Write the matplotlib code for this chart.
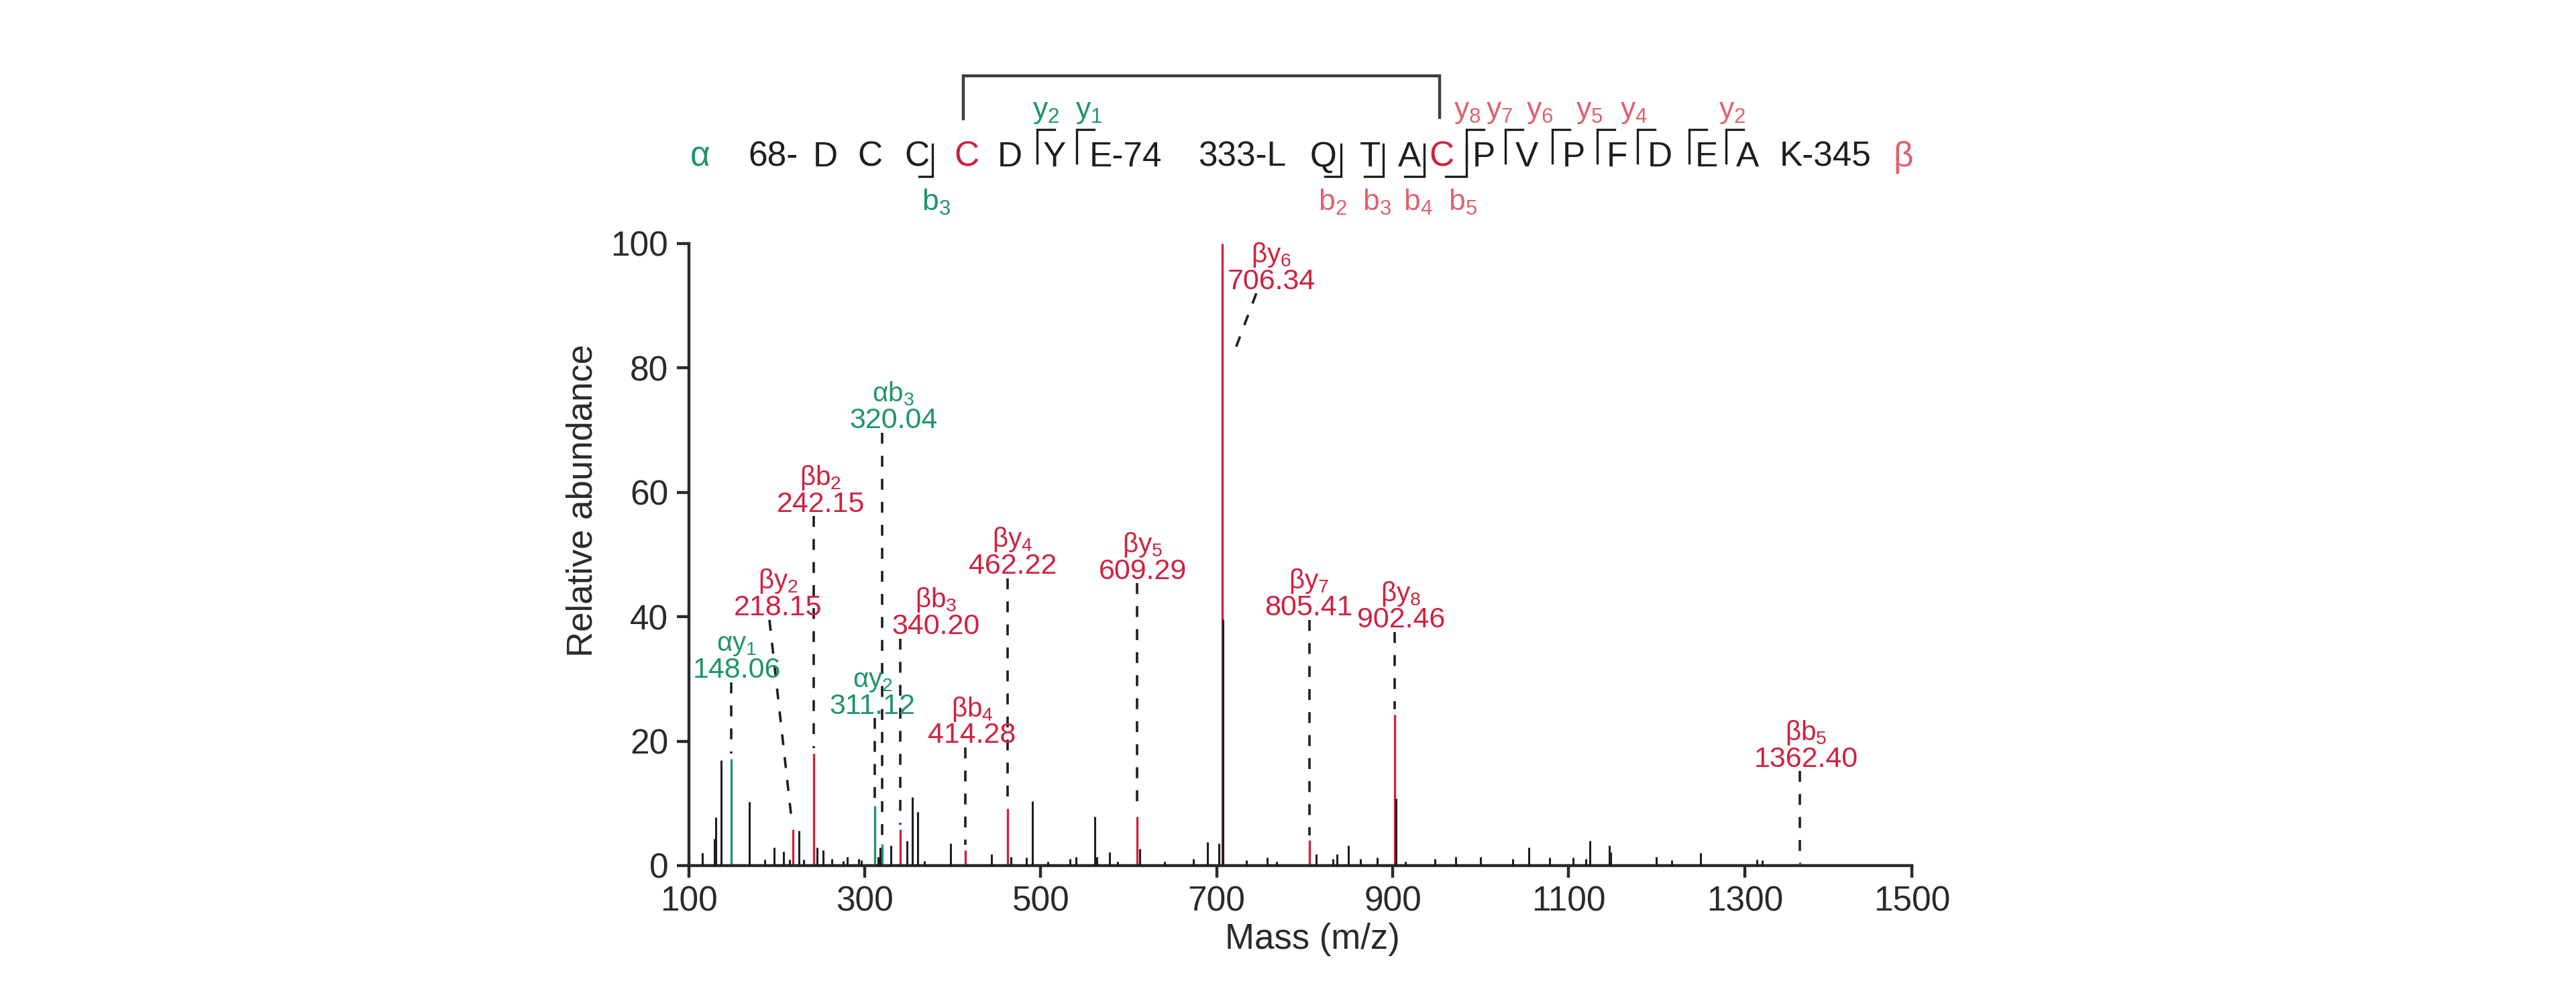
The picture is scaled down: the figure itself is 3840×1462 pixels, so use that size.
import matplotlib
matplotlib.use('Agg')
import matplotlib.pyplot as plt

# ── Palette / fonts ───────────────────────────────────────────────────
W, H = 3840, 1462
RED = '#d0213f'
GREEN = '#1e9664'
PINK = '#e0606f'
INK = '#1e1e1e'
AXC = '#2a2a2a'

plt.rcParams['font.family'] = ['Liberation Sans', 'DejaVu Sans']
plt.rcParams['mathtext.fontset'] = 'custom'
plt.rcParams['mathtext.rm'] = 'Liberation Sans'
plt.rcParams['mathtext.it'] = 'Liberation Sans:italic'
plt.rcParams['mathtext.bf'] = 'Liberation Sans:bold'

# ── Spectrum data ─────────────────────────────────────────────────────
black_mz = [115.7, 129.2, 131.0, 136.8, 168.6, 186.4, 197.1, 208.0, 214.4, 225.3,
            230.9, 246.1, 252.5, 262.7, 275.4, 280.5, 293.2, 296.2, 315.0, 317.5,
            330.0, 347.7, 354.1, 360.4, 368.0, 397.3, 444.2, 466.0, 483.8, 490.9,
            508.0, 533.4, 540.2, 561.3, 563.9, 578.4, 587.3, 612.2, 640.9, 673.7,
            689.7, 702.4, 707.3, 734.1, 757.0, 767.9, 812.9, 832.0, 836.6, 849.8,
            863.0, 882.3, 903.5, 914.6, 948.2, 971.3, 999.8, 1036.6, 1054.4, 1078.5,
            1105.2, 1119.2, 1123.8, 1145.9, 1147.7, 1199.2, 1217.0, 1250.0, 1314.1, 1320.0]
black_int = [2.1, 4.3, 7.8, 16.9, 10.3, 1.0, 2.9, 2.3, 1.0, 5.6,
             1.0, 2.9, 2.5, 1.1, 0.8, 1.4, 1.1, 0.9, 1.4, 2.9,
             3.2, 4.0, 11.0, 8.6, 0.8, 3.6, 1.8, 1.4, 1.3, 10.4,
             0.7, 1.1, 1.4, 7.9, 1.4, 2.2, 0.7, 2.7, 0.7, 1.1,
             3.8, 3.6, 39.6, 0.9, 1.3, 0.7, 1.8, 1.1, 1.8, 3.2,
             1.1, 1.3, 10.8, 0.7, 1.1, 1.4, 1.4, 1.1, 2.9, 1.3,
             1.3, 1.1, 4.0, 3.2, 2.2, 1.4, 0.9, 2.0, 1.0, 0.9]

# annotated fragment ions
ion_name = ['αy1', 'βy2', 'βb2', 'αy2', 'αb3', 'βb3', 'βb4',
            'βy4', 'βy5', 'βy6', 'βy7', 'βy8', 'βb5']
ion_mz = [148.06, 218.15, 242.15, 311.12, 320.04, 340.20, 414.28,
          462.22, 609.29, 706.34, 805.41, 902.46, 1362.40]
ion_int = [17.1, 5.8, 18.0, 9.6, 3.4, 5.8, 2.5,
           9.2, 7.9, 100.0, 4.1, 24.3, 0.5]

# label placement (label centre x, number baseline y) and leader ends
label_x = [154.6, 201.5, 249.9, 308.8, 332.4, 381.0, 422.0,
           467.8, 616.0, 762.0, 804.4, 909.5, 1369.4]
label_y = [30.2, 40.2, 56.9, 24.4, 70.3, 37.2, 19.7,
           46.9, 46.1, 92.7, 40.2, 38.25, 15.9]
lead_x0 = [148.06, 191.7, 242.15, 311.12, 320.04, 340.20, 414.28,
           462.22, 609.29, 745.0, 805.41, 902.46, 1362.40]
lead_x1 = [148.06, 217.5, 242.15, 311.12, 320.04, 340.20, 414.28,
           462.22, 609.29, 721.0, 805.41, 902.46, 1362.40]
lead_y1 = [18.0, 6.6, 18.9, 10.4, 4.2, 6.6, 3.3,
           10.0, 8.7, 83.0, 4.9, 25.1, 0.6]

xticks = [100, 300, 500, 700, 900, 1100, 1300, 1490]
xtick_labels = ['100', '300', '500', '700', '900', '1100', '1300', '1500']
yticks = [0, 20, 40, 60, 80, 100]

# ── Peptide header ────────────────────────────────────────────────────
alpha_res = ['68-', 'D', 'C', 'C', 'C', 'D', 'Y', 'E-74']
alpha_res_x = [1152, 1230, 1297, 1367, 1441, 1505, 1572, 1678]
beta_res = ['333-L', 'Q', 'T', 'A', 'C', 'P', 'V', 'P', 'F', 'D', 'E', 'A', 'K-345']
beta_res_x = [1852, 1973, 2043, 2101, 2149, 2212, 2276, 2346, 2410, 2474, 2544, 2605, 2721]
LINK_A, LINK_B = 4, 4

b_brk = [(1370, 1390), (1975, 1999), (2034, 2062), (2094, 2123), (2155, 2186)]
b_lab = [('b3', 1396, GREEN), ('b2', 1986, PINK), ('b3', 2053, PINK),
         ('b4', 2114, PINK), ('b5', 2181, PINK)]
y_brk = [1546, 1605, 2186, 2244, 2314, 2381, 2441, 2518, 2573]
y_lab = [('y2', 1559, GREEN), ('y1', 1623, GREEN), ('y8', 2187, PINK),
         ('y7', 2235, PINK), ('y6', 2295, PINK), ('y5', 2369, PINK),
         ('y4', 2436, PINK), ('y2', 2582, PINK)]


def sub(s):
    return r'$\mathregular{' + s[:-1] + '_{' + s[-1] + '}}$'


fig = plt.figure(figsize=(W / 100, H / 100), dpi=100)
fig.patch.set_facecolor('white')

# header drawn in pixel coords on a transparent overlay
hdr = fig.add_axes([0, 0, 1, 1])
hdr.set_xlim(0, W)
hdr.set_ylim(H, 0)
hdr.axis('off')
hdr.patch.set_visible(False)

BASE = 248
hdr.text(1044, BASE, 'α', color=GREEN, fontsize=37, ha='center', va='baseline')
hdr.text(2837, BASE, 'β', color=PINK, fontsize=37, ha='center', va='baseline')
for i, (r, x) in enumerate(zip(alpha_res, alpha_res_x)):
    hdr.text(x, BASE, r, color=RED if i == LINK_A else INK, fontsize=37,
             ha='center', va='baseline')
for i, (r, x) in enumerate(zip(beta_res, beta_res_x)):
    hdr.text(x, BASE, r, color=RED if i == LINK_B else INK, fontsize=37,
             ha='center', va='baseline')

for xl, xr in b_brk:
    hdr.plot([xl, xr, xr], [263, 263, 215], color=INK, lw=2.4, solid_joinstyle='miter')
for x in y_brk:
    hdr.plot([x, x, x + 26], [243, 193, 193], color=INK, lw=2.4, solid_joinstyle='miter')
for s, x, c in b_lab:
    hdr.text(x, 314, sub(s), color=c, fontsize=32, ha='center', va='baseline')
for s, x, c in y_lab:
    hdr.text(x, 176, sub(s), color=c, fontsize=32, ha='center', va='baseline')

# disulfide link between the two cysteines
hdr.plot([1436, 1436, 2146, 2146], [177, 113, 113, 175], color='#3c3c3c', lw=3.2,
         solid_joinstyle='miter')

# ── Spectrum ──────────────────────────────────────────────────────────
ax = fig.add_axes([0.26737, 0.11765, 0.47482, 0.63406])
ax.set_xlim(100, 1490)
ax.set_ylim(0, 100)

ion_col = [GREEN if n[0] == 'α' else RED for n in ion_name]
ax.vlines(ion_mz, 0, ion_int, colors=ion_col, lw=2.4, zorder=2, clip_on=False)
ax.vlines(black_mz, 0, black_int, colors=INK, lw=2.2, zorder=3, clip_on=False)

for i in range(len(ion_mz)):
    c = ion_col[i]
    ax.text(label_x[i], label_y[i], f'{ion_mz[i]:.2f}', color=c, fontsize=31,
            ha='center', va='baseline', zorder=5)
    ax.text(label_x[i], label_y[i] + 4.3, sub(ion_name[i]), color=c, fontsize=29,
            ha='center', va='baseline', zorder=5)
    ax.plot([lead_x0[i], lead_x1[i]], [label_y[i] - 0.7, lead_y1[i]],
            color=INK, lw=2.6, ls=(0, (4.5, 5.0)), zorder=4, clip_on=False)

for side in ['top', 'right']:
    ax.spines[side].set_visible(False)
for side in ['left', 'bottom']:
    ax.spines[side].set_linewidth(3.2)
    ax.spines[side].set_color(AXC)

ax.set_xticks(xticks)
ax.set_xticklabels(xtick_labels)
ax.set_yticks(yticks)
ax.tick_params(direction='out', length=13, width=3.2, labelsize=37, colors=AXC)
ax.tick_params(axis='x', pad=8)
ax.tick_params(axis='y', pad=9)

ax.set_ylabel('Relative abundance', fontsize=38, color=AXC)
ax.yaxis.set_label_coords(-0.0733, 0.587)
ax.set_xlabel('Mass (m/z)', fontsize=38, color=AXC)
ax.xaxis.set_label_coords(0.51, -0.092)

fig.savefig('out.png', dpi=100, facecolor='white')
